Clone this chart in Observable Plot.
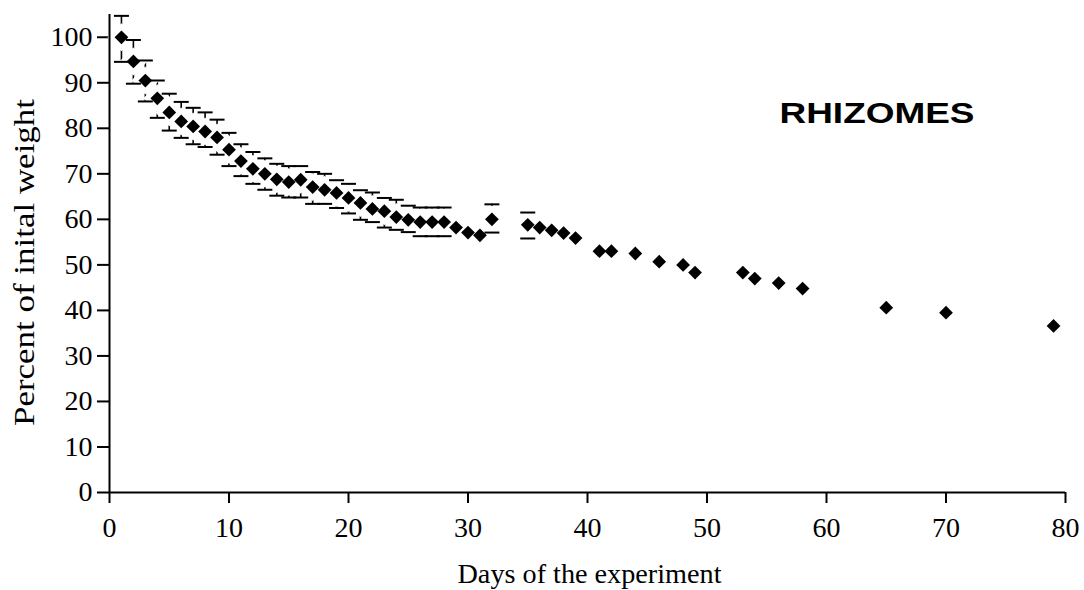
<!DOCTYPE html>
<html>
<head>
<meta charset="utf-8">
<script src="https://cdn.jsdelivr.net/npm/d3@7"></script>
<script src="https://cdn.jsdelivr.net/npm/@observablehq/plot@0.6"></script>
<style>
  html, body { margin: 0; padding: 0; background: #fff; }
</style>
</head>
<body>
<div id="chart"></div>
<script>
// ---- data ----
const days = [1,2,3,4,5,6,7,8,9,10,11,12,13,14,15,16,17,18,19,20,21,22,23,24,25,26,27,28,29,30,31,32,35,36,37,38,39,41,42,44,46,48,49,53,54,56,58,65,70,79];
const weight = [100.0,94.7,90.5,86.6,83.5,81.5,80.4,79.3,78.0,75.3,
                72.8,71.1,70.0,68.8,68.2,68.7,67.1,66.5,65.8,64.7,
                63.6,62.3,61.8,60.5,59.9,59.4,59.4,59.4,58.2,57.1,
                56.5,60.0,
                58.8,58.2,57.6,57.0,55.9,
                53.0,53.0,52.5,50.7,50.0,48.3,
                48.3,47.0,46.0,44.8,
                40.6,39.5,36.6];
const upper = [104.7,99.4,94.9,90.5,87.6,85.8,84.5,83.5,81.9,79.0,
               76.5,74.8,73.4,72.2,71.7,71.7,70.4,70.0,68.6,67.8,
               66.4,65.9,64.7,64.3,63.0,62.6,62.6,62.6,null,null,
               null,63.3,
               61.5,null,null,null,null,
               null,null,null,null,null,null,
               null,null,null,null,
               null,null,null];
const lower = [94.6,89.8,85.9,82.3,79.5,77.9,76.5,75.9,74.2,71.7,
               69.5,67.8,66.5,65.2,64.8,64.8,63.4,63.4,62.5,61.3,
               59.9,59.4,58.2,57.7,57.2,56.3,56.3,56.3,null,null,
               null,57.1,
               55.8,null,null,null,null,
               null,null,null,null,null,null,
               null,null,null,null,
               null,null,null];
const xTicks = [0,10,20,30,40,50,60,70,80];
const yTicks = [0,10,20,30,40,50,60,70,80,90,100];
const xTitle = "Days of the experiment";
const yTitle = "Percent of inital weight";
const panelLabel = "RHIZOMES";

// ---- build table ----
const rows = days.map((d, i) => ({day: d, weight: weight[i], upper: upper[i], lower: lower[i]}));
const errRows = rows.filter(r => r.upper != null && r.lower != null);

// error-bar cap: short horizontal line
const cap = { draw(ctx) { ctx.moveTo(-7.5, 0); ctx.lineTo(7.5, 0); } };

const chart = Plot.plot({
  width: 1084,
  height: 590,
  marginLeft: 109,
  marginRight: 19,
  marginTop: 14,
  marginBottom: 98,
  style: {fontFamily: "'Liberation Serif', 'Times New Roman', serif", fontSize: "28px", color: "black", background: "white"},
  x: {domain: [0, 80], ticks: xTicks, tickSize: 11, tickPadding: 14, label: null},
  y: {domain: [0, 105], ticks: yTicks, tickSize: 12, tickPadding: 5, label: null},
  marks: [
    Plot.ruleX(errRows, {x: "day", y1: "lower", y2: "upper", stroke: "black", strokeWidth: 1.6}),
    Plot.dot(rows, {x: "day", y: "weight", symbol: "diamond2", r: 12.6, fill: "white", stroke: "none"}),
    Plot.dot(errRows, {x: "day", y: "upper", symbol: cap, fill: "none", stroke: "black", strokeWidth: 2}),
    Plot.dot(errRows, {x: "day", y: "lower", symbol: cap, fill: "none", stroke: "black", strokeWidth: 2}),
    Plot.dot(rows, {x: "day", y: "weight", symbol: "diamond2", r: 6.2, fill: "black", stroke: "none"}),
    Plot.ruleX([0], {stroke: "black", strokeWidth: 2}),
    Plot.ruleY([0], {stroke: "black", strokeWidth: 2}),
    Plot.text([yTitle], {text: d => d, frameAnchor: "left", textAnchor: "middle", lineAnchor: "middle",
      rotate: -90, dx: -85, dy: 9, fontSize: 30, fill: "black"}),
    Plot.text([xTitle], {text: d => d, frameAnchor: "bottom", textAnchor: "middle", lineAnchor: "middle",
      dx: 2, dy: 82, fontSize: 27, fill: "black"}),
    Plot.text([panelLabel], {text: d => d, frameAnchor: "top-left", textAnchor: "start", lineAnchor: "middle",
      dx: 670, dy: 99, fontSize: 29, fontWeight: "bold", fontFamily: "'Liberation Sans', Arial, sans-serif", fill: "black"})
  ]
});

document.getElementById("chart").appendChild(chart);

// ---- styling touches ----
const svg = d3.select(chart.tagName === "svg" ? chart : chart.querySelector("svg"));
svg.selectAll('[aria-label="x-axis tick"], [aria-label="y-axis tick"]').attr("stroke-width", 2);
svg.selectAll('[aria-label="x-axis"] line, [aria-label="y-axis"] line').attr("stroke-width", 2);
const stretch = (label, len) => svg.selectAll("text")
  .filter(function() { return this.textContent === label; })
  .attr("textLength", len).attr("lengthAdjust", "spacingAndGlyphs");
stretch(yTitle, 327);
stretch(xTitle, 264);
stretch(panelLabel, 195);
</script>
</body>
</html>
